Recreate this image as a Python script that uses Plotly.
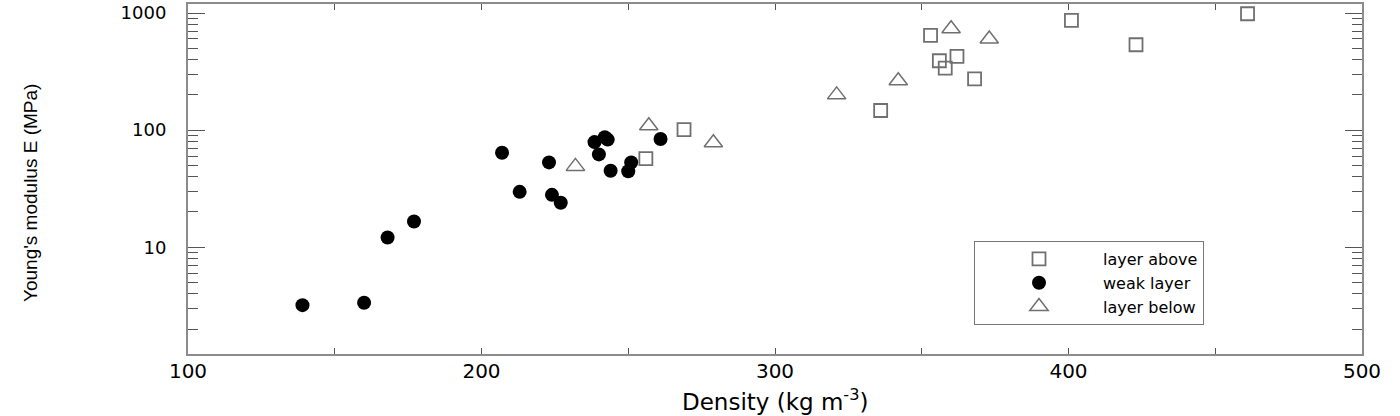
import plotly.graph_objects as go

# Layer above (open squares)
above_density = [256, 269, 336, 353, 356, 358, 362, 368, 401, 423, 461]
above_E = [57, 101, 147, 644, 391, 339, 426, 274, 865, 536, 986]

# Weak layer (filled circles)
weak_density = [139, 160, 168, 177, 207, 213, 223, 224, 227, 238.5, 240, 242, 243,
                244, 250, 251, 261]
weak_E = [3.2, 3.35, 12.1, 16.6, 64, 29.7, 53, 28, 24, 79, 62, 87, 83,
          45, 44.5, 53, 84]

# Layer below (open triangles)
below_density = [232, 257, 279, 321, 342, 360, 373]
below_E = [49, 109, 78, 200, 264, 734, 600]

x_ticks = [100, 200, 300, 400, 500]
y_ticks = [10, 100, 1000]
y_minor = [m * 10 ** k for k in range(0, 3) for m in range(2, 10)]

FONT = "DejaVu Sans"
GRAY = "#707070"

fig = go.Figure()
fig.add_trace(go.Scatter(
    x=above_density, y=above_E, mode="markers", name="layer above",
    marker=dict(symbol="square-open", size=13, color=GRAY, line=dict(width=1.8, color=GRAY)),
))
fig.add_trace(go.Scatter(
    x=weak_density, y=weak_E, mode="markers", name="weak layer",
    marker=dict(symbol="circle", size=14, color="black", line=dict(width=0)),
))
fig.add_trace(go.Scatter(
    x=below_density, y=below_E, mode="markers", name="layer below",
    marker=dict(symbol="triangle-up-open", size=16, color=GRAY, line=dict(width=1.5, color=GRAY)),
))

axis_common = dict(
    showline=True, linecolor="#8c8c8c", linewidth=2, mirror="allticks",
    ticks="inside", tickcolor="#555555", tickwidth=1, showgrid=False, zeroline=False,
    automargin=False, ticklabeloverflow="allow",
)

fig.update_xaxes(
    range=[100, 500], tickmode="array", tickvals=x_ticks, ticklen=6,
    minor=dict(ticks="inside", dtick=50, ticklen=6, tickcolor="#555555", showgrid=False),
    ticklabelstandoff=-2, tickfont=dict(family=FONT, size=20, color="black"),
    **axis_common,
)
fig.update_yaxes(
    type="log", range=[0.088, 3.077], tickmode="array", tickvals=y_ticks,
    ticktext=[str(v) for v in y_ticks], ticklen=17,
    minor=dict(ticks="inside", tickmode="array", tickvals=y_minor, ticklen=10,
               tickcolor="#555555", showgrid=False),
    ticklabelstandoff=16, tickfont=dict(family=FONT, size=18, color="black"),
    **axis_common,
)

fig.add_annotation(
    text="Young's modulus E (MPa)", textangle=-90, showarrow=False,
    xref="paper", yref="paper", x=(30 - 188) / 1174, y=(354 - 193) / 350,
    xanchor="center", yanchor="middle",
    font=dict(family="Liberation Sans", size=19, color="black"),
)
fig.add_annotation(
    text="Density (kg m<sup>-3</sup>)", showarrow=False,
    xref="paper", yref="paper", x=0.5, y=(354 - 400) / 350, xanchor="center", yanchor="middle",
    font=dict(family=FONT, size=23, color="black"),
)

fig.update_layout(
    width=1400, height=416,
    margin=dict(l=188, r=38, t=4, b=62, autoexpand=False),
    plot_bgcolor="white", paper_bgcolor="white",
    legend=dict(
        x=(974 - 188) / 1174, y=(354 - 325) / 350, xanchor="left", yanchor="bottom",
        bgcolor="white", bordercolor="#777777", borderwidth=1,
        font=dict(family=FONT, size=16, color="black"),
        itemwidth=118, tracegroupgap=0,
    ),
)

fig.write_html("out.html", config={"displayModeBar": False},
               post_script="document.body.style.margin='0px';")
